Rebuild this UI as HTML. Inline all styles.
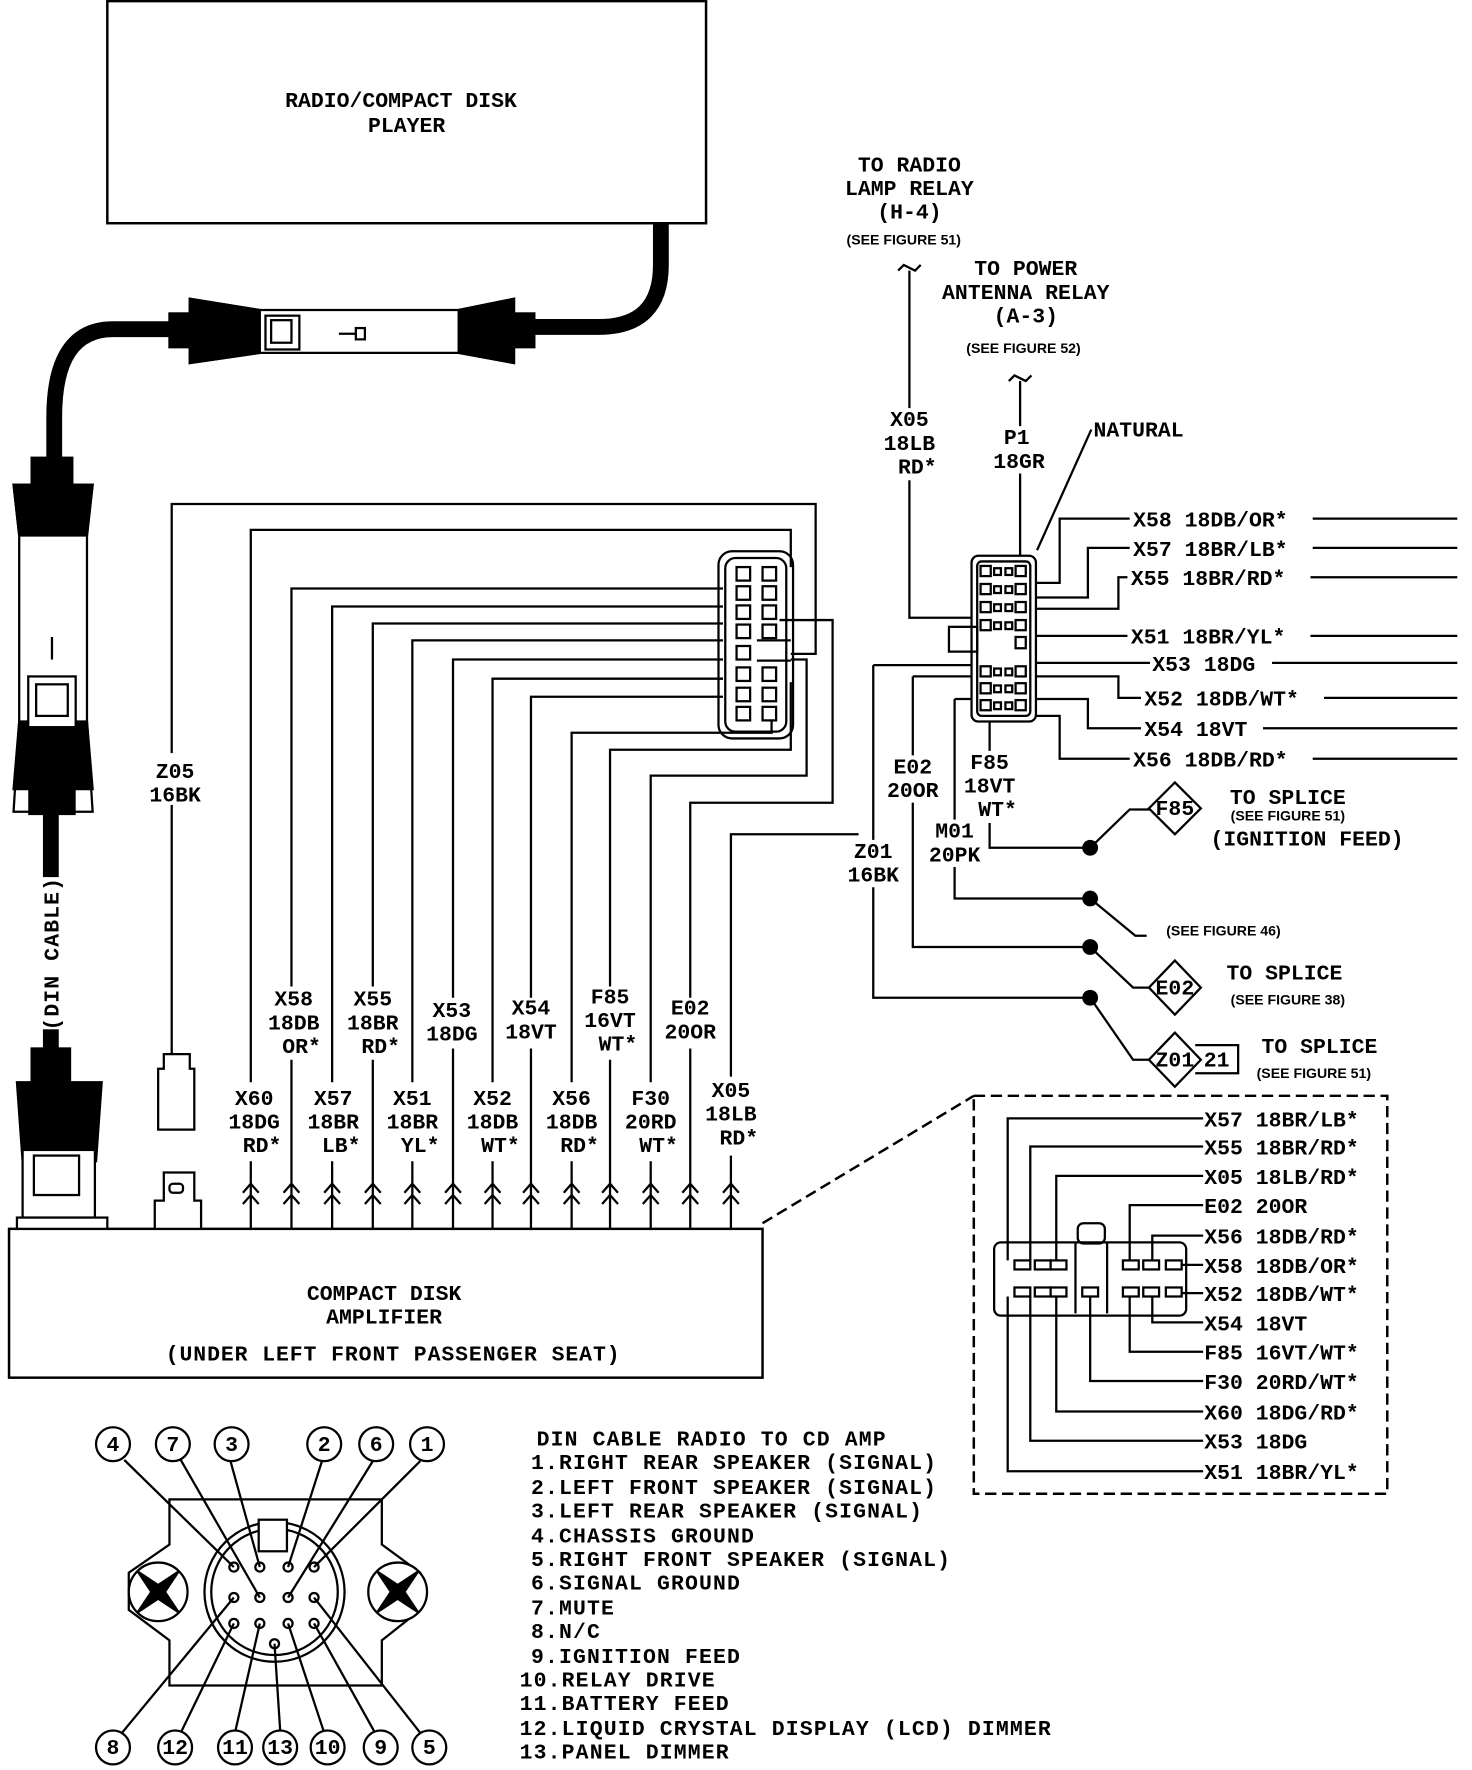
<!DOCTYPE html>
<html><head><meta charset="utf-8"><style>
html,body{margin:0;padding:0;background:#fff}
svg{display:block}
text{font-family:"Liberation Mono",monospace;font-weight:bold;fill:#000}
.t{font-size:19px}
.s{font-family:"Liberation Sans",sans-serif;font-size:12.5px;font-weight:bold}
</style></head><body>
<svg width="1472" height="1770" viewBox="0 0 1303 1570" preserveAspectRatio="none" xmlns="http://www.w3.org/2000/svg">
<g fill="none" stroke="#000" stroke-width="2.2">
<rect x="95" y="1" width="530" height="197"/>
<rect x="8" y="1090" width="667" height="132"/>
<rect x="862" y="972" width="366" height="353" stroke-dasharray="10,5"/>
<line x1="675" y1="1085" x2="862" y2="972" stroke-dasharray="10,5"/>
</g>
<g fill="none" stroke="#000" stroke-width="14">
<path d="M585 198 V235 Q585 290 530 290 H470"/>
<path d="M150 292 H100 Q48 292 48 370 V425"/>
<path d="M45 720 V950"/>
</g>
<rect x="30" y="778" width="32" height="135" fill="#fff"/>
<text class="t" transform="translate(52,846) rotate(-90)" text-anchor="middle" letter-spacing="1">(DIN CABLE)</text>
<g stroke="#000" stroke-width="2">
<path d="M168 265 L230 275 H406 L455 265 V322 L406 313 H230 L168 322 Z" fill="#fff"/>
<path d="M168 265 L230 275 V313 L168 322 Z" fill="#000"/>
<path d="M406 275 L455 265 V322 L406 313 Z" fill="#000"/>
<rect x="150" y="278" width="18" height="30" fill="#000"/>
<rect x="455" y="278" width="18" height="30" fill="#000"/>
<rect x="235" y="280" width="30" height="30" fill="#fff"/>
<rect x="240" y="284" width="18" height="20" fill="#fff"/>
<line x1="300" y1="296" x2="315" y2="296"/><rect x="315" y="291" width="8" height="10" fill="#fff"/>
<path d="M12 430 H82 L77 475 V640 L82 720 H12 L17 640 V475 Z" fill="#fff"/>
<path d="M12 430 H82 L77 475 H17 Z" fill="#000"/>
<path d="M17 640 H77 L82 700 H12 Z" fill="#000"/>
<rect x="28" y="406" width="36" height="24" fill="#000"/>
<rect x="26" y="700" width="40" height="22" fill="#000"/>
<rect x="25" y="600" width="42" height="45" fill="#fff"/>
<rect x="32" y="607" width="28" height="28" fill="#fff"/>
<line x1="46" y1="565" x2="46" y2="585"/>
<rect x="28" y="930" width="34" height="30" fill="#000"/>
<path d="M15 960 H90 L85 1030 H20 Z" fill="#000"/>
<rect x="20" y="1020" width="64" height="60" fill="#fff"/>
<rect x="30" y="1025" width="40" height="35" fill="#fff"/>
<rect x="15" y="1080" width="80" height="10" fill="#fff"/>
<path d="M145 935 H168 V948 H172 V1002 H140 V948 H145 Z" fill="#fff"/>
<path d="M145 1040 H172 V1065 H178 V1090 H137 V1065 H145 Z" fill="#fff"/>
<rect x="150" y="1050" width="12" height="8" rx="3" fill="#fff"/>
</g>
<text class="t" x="355" y="95" text-anchor="middle">RADIO/COMPACT DISK</text>
<text class="t" x="360" y="117" text-anchor="middle">PLAYER</text>
<text class="t" x="340" y="1153" text-anchor="middle">COMPACT DISK</text>
<text class="t" x="340" y="1174" text-anchor="middle">AMPLIFIER</text>
<text class="t" x="348" y="1207" text-anchor="middle" letter-spacing="0.8">(UNDER LEFT FRONT PASSENGER SEAT)</text>

<g fill="none" stroke="#000" stroke-width="2">
<rect x="636" y="489" width="66" height="166" rx="12"/>
<rect x="642" y="495" width="54" height="154" rx="9"/>
<g fill="#fff">
<rect x="652" y="503" width="12" height="12"/><rect x="652" y="520" width="12" height="12"/><rect x="652" y="537" width="12" height="12"/><rect x="652" y="554" width="12" height="12"/><rect x="652" y="573" width="12" height="12"/><rect x="652" y="592" width="12" height="12"/><rect x="652" y="610" width="12" height="12"/><rect x="652" y="627" width="12" height="12"/>
<rect x="675" y="503" width="12" height="12"/><rect x="675" y="520" width="12" height="12"/><rect x="675" y="537" width="12" height="12"/><rect x="675" y="554" width="12" height="12"/><rect x="675" y="592" width="12" height="12"/><rect x="675" y="610" width="12" height="12"/><rect x="675" y="627" width="12" height="12"/>
</g>
<line x1="670" y1="568" x2="700" y2="568"/><line x1="670" y1="586" x2="700" y2="586"/>
<path d="M152 935 V447 H722 V580 H700"/>
<path d="M222 960 V470 H700 V503"/>
<path d="M258 875 V522 H640"/>
<path d="M294 960 V538 H640"/>
<path d="M330 875 V553 H640"/>
<path d="M365 960 V568 H640"/>
<path d="M401 885 V585 H640"/>
<path d="M436 960 V602 H640"/>
<path d="M470 885 V618 H640"/>
<path d="M506 960 V650 H683 V640"/>
<path d="M540 875 V665 H700 V605"/>
<path d="M576 960 V688 H714 V585 H700"/>
<path d="M611 885 V712 H737 V550 H690"/>
<path d="M647 955 V740 H760"/>
<path d="M222 1090 V1030 M294 1090 V1030 M365 1090 V1030 M436 1090 V1030 M506 1090 V1030 M576 1090 V1030 M647 1090 V1025"/>
<path d="M258 1090 V940 M330 1090 V940 M401 1090 V930 M470 1090 V930 M540 1090 V940 M611 1090 V930"/>
<path d="M215 1058 L222 1050 L229 1058 M215 1068 L222 1060 L229 1068"/>
<path d="M251 1058 L258 1050 L265 1058 M251 1068 L258 1060 L265 1068"/>
<path d="M287 1058 L294 1050 L301 1058 M287 1068 L294 1060 L301 1068"/>
<path d="M323 1058 L330 1050 L337 1058 M323 1068 L330 1060 L337 1068"/>
<path d="M358 1058 L365 1050 L372 1058 M358 1068 L365 1060 L372 1068"/>
<path d="M394 1058 L401 1050 L408 1058 M394 1068 L401 1060 L408 1068"/>
<path d="M429 1058 L436 1050 L443 1058 M429 1068 L436 1060 L443 1068"/>
<path d="M463 1058 L470 1050 L477 1058 M463 1068 L470 1060 L477 1068"/>
<path d="M499 1058 L506 1050 L513 1058 M499 1068 L506 1060 L513 1068"/>
<path d="M533 1058 L540 1050 L547 1058 M533 1068 L540 1060 L547 1068"/>
<path d="M569 1058 L576 1050 L583 1058 M569 1068 L576 1060 L583 1068"/>
<path d="M604 1058 L611 1050 L618 1058 M604 1068 L611 1060 L618 1068"/>
<path d="M640 1058 L647 1050 L654 1058 M640 1068 L647 1060 L654 1068"/>
</g>
<rect x="130" y="668" width="50" height="46" fill="#fff"/>
<text class="t" x="155" y="690" text-anchor="middle">Z05</text>
<text class="t" x="155" y="711" text-anchor="middle">16BK</text>
<g text-anchor="middle">
<text class="t" x="260" y="892">X58</text><text class="t" x="260" y="913">18DB</text><text class="t" x="267" y="934">OR*</text>
<text class="t" x="330" y="892">X55</text><text class="t" x="330" y="913">18BR</text><text class="t" x="337" y="934">RD*</text>
<text class="t" x="400" y="902">X53</text><text class="t" x="400" y="923">18DG</text>
<text class="t" x="470" y="900">X54</text><text class="t" x="470" y="921">18VT</text>
<text class="t" x="540" y="890">F85</text><text class="t" x="540" y="911">16VT</text><text class="t" x="547" y="932">WT*</text>
<text class="t" x="611" y="900">E02</text><text class="t" x="611" y="921">20OR</text>
<text class="t" x="225" y="980">X60</text><text class="t" x="225" y="1001">18DG</text><text class="t" x="232" y="1022">RD*</text>
<text class="t" x="295" y="980">X57</text><text class="t" x="295" y="1001">18BR</text><text class="t" x="302" y="1022">LB*</text>
<text class="t" x="365" y="980">X51</text><text class="t" x="365" y="1001">18BR</text><text class="t" x="372" y="1022">YL*</text>
<text class="t" x="436" y="980">X52</text><text class="t" x="436" y="1001">18DB</text><text class="t" x="443" y="1022">WT*</text>
<text class="t" x="506" y="980">X56</text><text class="t" x="506" y="1001">18DB</text><text class="t" x="513" y="1022">RD*</text>
<text class="t" x="576" y="980">F30</text><text class="t" x="576" y="1001">20RD</text><text class="t" x="583" y="1022">WT*</text>
<text class="t" x="647" y="973">X05</text><text class="t" x="647" y="994">18LB</text><text class="t" x="654" y="1015">RD*</text>
</g>

<g fill="none" stroke="#000" stroke-width="2">
<path d="M795 240 L800 235 L810 240 L815 235"/>
<path d="M893 338 L898 333 L908 338 L913 333"/>
<path d="M805 240 V548 H860"/>
<path d="M903 338 V493"/>
<path d="M966 381 L918 488"/>
<path d="M808 600 H860 M808 600 V840 H965"/>
<path d="M773 590 H860 M773 590 V885 H965"/>
<path d="M845 620 H860 M845 620 V797 H965"/>
<path d="M876 640 V752 H965"/>
<rect x="860" y="493" width="57" height="147" rx="6"/>
<rect x="865" y="498" width="47" height="137" rx="4"/>
<rect x="840" y="556" width="25" height="22"/>
<g fill="#fff">
<rect x="868" y="502" width="9" height="9"/><rect x="880" y="504" width="6" height="6"/><rect x="890" y="504" width="6" height="6"/><rect x="899" y="502" width="9" height="9"/>
<rect x="868" y="518" width="9" height="9"/><rect x="880" y="520" width="6" height="6"/><rect x="890" y="520" width="6" height="6"/><rect x="899" y="518" width="9" height="9"/>
<rect x="868" y="534" width="9" height="9"/><rect x="880" y="536" width="6" height="6"/><rect x="890" y="536" width="6" height="6"/><rect x="899" y="534" width="9" height="9"/>
<rect x="868" y="550" width="9" height="9"/><rect x="880" y="552" width="6" height="6"/><rect x="890" y="552" width="6" height="6"/><rect x="899" y="550" width="9" height="9"/>
<rect x="899" y="565" width="9" height="10"/>
<rect x="868" y="591" width="9" height="9"/><rect x="880" y="593" width="6" height="6"/><rect x="890" y="593" width="6" height="6"/><rect x="899" y="591" width="9" height="9"/>
<rect x="868" y="606" width="9" height="9"/><rect x="880" y="608" width="6" height="6"/><rect x="890" y="608" width="6" height="6"/><rect x="899" y="606" width="9" height="9"/>
<rect x="868" y="621" width="9" height="9"/><rect x="880" y="623" width="6" height="6"/><rect x="890" y="623" width="6" height="6"/><rect x="899" y="621" width="9" height="9"/>
</g>
<path d="M917 517 H938 V460 H1290"/>
<path d="M917 530 H963 V486 H1290"/>
<path d="M917 540 H990 V512 H1290"/>
<path d="M917 564 H1290"/>
<path d="M917 588 H1290"/>
<path d="M917 600 H990 V619 H1290"/>
<path d="M917 620 H963 V646 H1290"/>
<path d="M917 635 H938 V673 H1290"/>
<path d="M965 752 L1000 718 H1018"/>
<path d="M965 797 L1005 830 H1015"/>
<path d="M965 840 L1003 876 H1018"/>
<path d="M965 885 L1003 940 H1018"/>
<path d="M1040 694 L1063 717 L1040 740 L1017 717 Z" fill="#fff"/>
<path d="M1040 852 L1063 876 L1040 900 L1017 876 Z" fill="#fff"/>
<path d="M1040 916 L1063 940 L1040 964 L1017 940 Z" fill="#fff"/>
<path d="M1058 927 H1096 V952 H1058"/>
</g>
<g fill="#fff">
<rect x="780" y="362" width="52" height="64"/>
<rect x="876" y="378" width="52" height="42"/>
<rect x="782" y="670" width="52" height="42"/>
<rect x="850" y="666" width="52" height="64"/>
<rect x="818" y="727" width="54" height="42"/>
<rect x="746" y="745" width="54" height="42"/>
<rect x="1000" y="450" width="162" height="20"/>
<rect x="1000" y="476" width="162" height="20"/>
<rect x="998" y="502" width="162" height="20"/>
<rect x="998" y="554" width="162" height="20"/>
<rect x="1018" y="578" width="108" height="20"/>
<rect x="1010" y="609" width="162" height="20"/>
<rect x="1010" y="636" width="108" height="20"/>
<rect x="1000" y="663" width="162" height="20"/>
</g>
<g text-anchor="middle">
<text class="t" x="805" y="152">TO RADIO</text>
<text class="t" x="805" y="173">LAMP RELAY</text>
<text class="t" x="805" y="194">(H-4)</text>
<text class="s" x="800" y="217">(SEE FIGURE 51)</text>
<text class="t" x="908" y="244">TO POWER</text>
<text class="t" x="908" y="265">ANTENNA RELAY</text>
<text class="t" x="908" y="286">(A-3)</text>
<text class="s" x="906" y="313">(SEE FIGURE 52)</text>
<text class="t" x="805" y="378">X05</text><text class="t" x="805" y="399">18LB</text><text class="t" x="812" y="420">RD*</text>
<text class="t" x="900" y="394">P1</text><text class="t" x="902" y="415">18GR</text>
<text class="t" x="808" y="686">E02</text><text class="t" x="808" y="707">20OR</text>
<text class="t" x="876" y="682">F85</text><text class="t" x="876" y="703">18VT</text><text class="t" x="883" y="724">WT*</text>
<text class="t" x="845" y="743">M01</text><text class="t" x="845" y="764">20PK</text>
<text class="t" x="773" y="761">Z01</text><text class="t" x="773" y="782">16BK</text>
</g>
<text class="t" x="968" y="387">NATURAL</text>
<g fill="#000"><circle cx="965" cy="752" r="7"/><circle cx="965" cy="797" r="7"/><circle cx="965" cy="840" r="7"/><circle cx="965" cy="885" r="7"/></g>
<g font-size="17">
<text class="t" x="1003" y="467">X58 18DB/OR*</text>
<text class="t" x="1003" y="493">X57 18BR/LB*</text>
<text class="t" x="1001" y="519">X55 18BR/RD*</text>
<text class="t" x="1001" y="571">X51 18BR/YL*</text>
<text class="t" x="1020" y="595">X53 18DG</text>
<text class="t" x="1013" y="626">X52 18DB/WT*</text>
<text class="t" x="1013" y="653">X54 18VT</text>
<text class="t" x="1003" y="680">X56 18DB/RD*</text>
</g>
<text class="t" x="1040" y="723" text-anchor="middle" font-size="15">F85</text>
<text class="t" x="1040" y="882" text-anchor="middle" font-size="15">E02</text>
<text class="t" x="1040" y="946" text-anchor="middle" font-size="15">Z01</text>
<text class="t" x="1077" y="946" text-anchor="middle" font-size="16">21</text>
<text class="t" x="1140" y="713" text-anchor="middle">TO SPLICE</text>
<text class="s" x="1140" y="728" text-anchor="middle">(SEE FIGURE 51)</text>
<text class="t" x="1157" y="750" text-anchor="middle">(IGNITION FEED)</text>
<text class="s" x="1083" y="830" text-anchor="middle">(SEE FIGURE 46)</text>
<text class="t" x="1137" y="869" text-anchor="middle">TO SPLICE</text>
<text class="s" x="1140" y="891" text-anchor="middle">(SEE FIGURE 38)</text>
<text class="t" x="1168" y="934" text-anchor="middle">TO SPLICE</text>
<text class="s" x="1163" y="956" text-anchor="middle">(SEE FIGURE 51)</text>

<g fill="none" stroke="#000" stroke-width="2">
<rect x="880" y="1102" width="170" height="65" rx="6"/>
<rect x="954" y="1085" width="24" height="18" rx="5"/>
<line x1="952" y1="1102" x2="952" y2="1165"/><line x1="980" y1="1102" x2="980" y2="1165"/>
<g fill="#fff">
<rect x="898" y="1118" width="14" height="8"/><rect x="916" y="1118" width="14" height="8"/><rect x="930" y="1118" width="14" height="8"/>
<rect x="994" y="1118" width="14" height="8"/><rect x="1012" y="1118" width="14" height="8"/><rect x="1032" y="1118" width="14" height="8"/>
<rect x="898" y="1142" width="14" height="8"/><rect x="916" y="1142" width="14" height="8"/><rect x="930" y="1142" width="14" height="8"/>
<rect x="958" y="1142" width="14" height="8"/>
<rect x="994" y="1142" width="14" height="8"/><rect x="1012" y="1142" width="14" height="8"/><rect x="1032" y="1142" width="14" height="8"/>
</g>
<path d="M1065 992 H892 V1118"/>
<path d="M1065 1017 H912 V1118"/>
<path d="M1065 1043 H935 V1118"/>
<path d="M1065 1069 H1000 V1118"/>
<path d="M1065 1096 H1020 V1118"/>
<path d="M1065 1122 H1046"/>
<path d="M1065 1147 H1046"/>
<path d="M1065 1173 H1020 V1150"/>
<path d="M1065 1199 H1000 V1150"/>
<path d="M1065 1225 H965 V1150"/>
<path d="M1065 1252 H935 V1150"/>
<path d="M1065 1278 H912 V1150"/>
<path d="M1065 1305 H892 V1150"/>
</g>
<g font-size="18">
<text class="t" x="1066" y="999">X57 18BR/LB*</text>
<text class="t" x="1066" y="1024">X55 18BR/RD*</text>
<text class="t" x="1066" y="1050">X05 18LB/RD*</text>
<text class="t" x="1066" y="1076">E02 20OR</text>
<text class="t" x="1066" y="1103">X56 18DB/RD*</text>
<text class="t" x="1066" y="1129">X58 18DB/OR*</text>
<text class="t" x="1066" y="1154">X52 18DB/WT*</text>
<text class="t" x="1066" y="1180">X54 18VT</text>
<text class="t" x="1066" y="1206">F85 16VT/WT*</text>
<text class="t" x="1066" y="1232">F30 20RD/WT*</text>
<text class="t" x="1066" y="1259">X60 18DG/RD*</text>
<text class="t" x="1066" y="1285">X53 18DG</text>
<text class="t" x="1066" y="1312">X51 18BR/YL*</text>
</g>

<g fill="none" stroke="#000" stroke-width="2">
<path d="M150 1330 H338 V1370 L372 1395 V1428 L338 1455 V1495 H150 V1455 L114 1428 V1395 L150 1370 Z" fill="#fff"/>
<circle cx="243" cy="1412" r="62"/><circle cx="243" cy="1412" r="56"/>
<rect x="229" y="1348" width="25" height="28" fill="#fff"/>
<circle cx="140" cy="1412" r="26" fill="#fff"/><circle cx="352" cy="1412" r="26" fill="#fff"/>
<path d="M122 1394 L140 1406 L158 1394 L146 1412 L158 1430 L140 1418 L122 1430 L134 1412 Z" fill="#000"/>
<path d="M334 1394 L352 1406 L370 1394 L358 1412 L370 1430 L352 1418 L334 1430 L346 1412 Z" fill="#000"/>
<g fill="#fff">
<circle cx="207" cy="1390" r="4"/><circle cx="230" cy="1390" r="4"/><circle cx="255" cy="1390" r="4"/><circle cx="278" cy="1390" r="4"/>
<circle cx="207" cy="1417" r="4"/><circle cx="230" cy="1417" r="4"/><circle cx="255" cy="1417" r="4"/><circle cx="278" cy="1417" r="4"/>
<circle cx="207" cy="1440" r="4"/><circle cx="230" cy="1440" r="4"/><circle cx="255" cy="1440" r="4"/><circle cx="278" cy="1440" r="4"/>
<circle cx="243" cy="1458" r="4"/>
</g>
<path d="M110 1295 L207 1390 M160 1295 L230 1417 M204 1296 L230 1390 M285 1296 L255 1390 M330 1296 L255 1417 M372 1296 L278 1390"/>
<path d="M108 1537 L207 1417 M160 1537 L207 1440 M208 1537 L230 1440 M248 1535 L243 1458 M287 1537 L255 1440 M332 1537 L278 1440 M372 1537 L278 1417"/>
<g fill="#fff">
<circle cx="100" cy="1281" r="15"/><circle cx="153" cy="1281" r="15"/><circle cx="205" cy="1281" r="15"/><circle cx="287" cy="1281" r="15"/><circle cx="333" cy="1281" r="15"/><circle cx="378" cy="1281" r="15"/>
<circle cx="100" cy="1550" r="15"/><circle cx="155" cy="1550" r="15"/><circle cx="208" cy="1550" r="15"/><circle cx="248" cy="1550" r="15"/><circle cx="290" cy="1550" r="15"/><circle cx="337" cy="1550" r="15"/><circle cx="380" cy="1550" r="15"/>
</g>
</g>
<g text-anchor="middle" font-size="17">
<text class="t" x="100" y="1287">4</text><text class="t" x="153" y="1287">7</text><text class="t" x="205" y="1287">3</text><text class="t" x="287" y="1287">2</text><text class="t" x="333" y="1287">6</text><text class="t" x="378" y="1287">1</text>
<text class="t" x="100" y="1556">8</text><text class="t" x="155" y="1556">12</text><text class="t" x="208" y="1556">11</text><text class="t" x="248" y="1556">13</text><text class="t" x="290" y="1556">10</text><text class="t" x="337" y="1556">9</text><text class="t" x="380" y="1556">5</text>
</g>
<g letter-spacing="1">
<text class="t" x="475" y="1282">DIN CABLE RADIO TO CD AMP</text>
<text class="t" x="470" y="1303">1.RIGHT REAR SPEAKER (SIGNAL)</text>
<text class="t" x="470" y="1325">2.LEFT FRONT SPEAKER (SIGNAL)</text>
<text class="t" x="470" y="1346">3.LEFT REAR SPEAKER (SIGNAL)</text>
<text class="t" x="470" y="1368">4.CHASSIS GROUND</text>
<text class="t" x="470" y="1389">5.RIGHT FRONT SPEAKER (SIGNAL)</text>
<text class="t" x="470" y="1410">6.SIGNAL GROUND</text>
<text class="t" x="470" y="1432">7.MUTE</text>
<text class="t" x="470" y="1453">8.N/C</text>
<text class="t" x="470" y="1475">9.IGNITION FEED</text>
<text class="t" x="460" y="1496">10.RELAY DRIVE</text>
<text class="t" x="460" y="1517">11.BATTERY FEED</text>
<text class="t" x="460" y="1539">12.LIQUID CRYSTAL DISPLAY (LCD) DIMMER</text>
<text class="t" x="460" y="1560">13.PANEL DIMMER</text>
</g>
</svg>
</body></html>
